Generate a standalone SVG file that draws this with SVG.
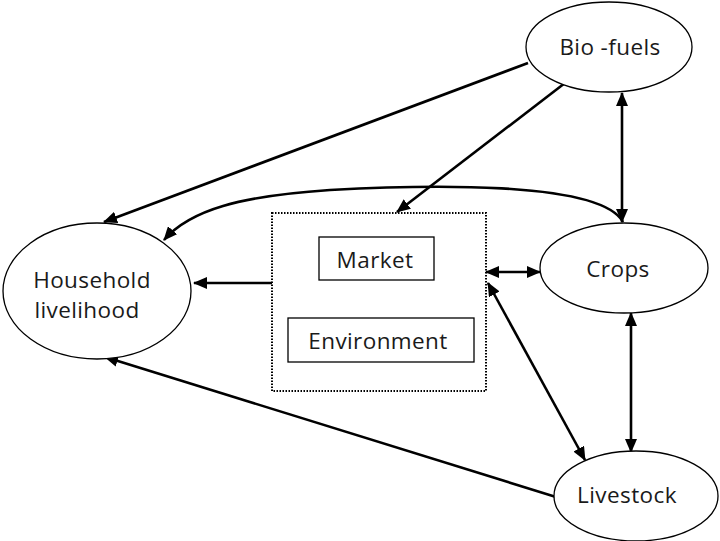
<svg xmlns="http://www.w3.org/2000/svg" width="720" height="541" viewBox="0 0 720 541">
<style>
.node{fill:#fff;stroke:#000;stroke-width:1.3}
.lbl{font-family:"Open Sans","Liberation Sans",sans-serif;font-size:22.5px;letter-spacing:0.4px;fill:#1a1a1a;text-anchor:middle}
.con{fill:none;stroke:#000;stroke-width:2.6}
.box{fill:#fff;stroke:#000;stroke-width:1.3}
.dash{fill:none;stroke:#000;stroke-width:2;stroke-dasharray:1.5 1.5}
</style>
<defs>
<marker id="ah" markerUnits="userSpaceOnUse" markerWidth="14" markerHeight="12" refX="13" refY="6" orient="auto-start-reverse" viewBox="0 0 14 12">
<path d="M0,0 L14,6 L0,12 Z" fill="#000"/>
</marker>
</defs>
<rect width="720" height="541" fill="#fff"/>
<g id="connectors">
<line class="con" x1="528" y1="63" x2="104" y2="222" marker-end="url(#ah)"/>
<line class="con" x1="565" y1="83" x2="397" y2="212" marker-end="url(#ah)"/>
<path class="con" d="M623,222 C600,180 420,185 330,190 C240,196 190,210 164,240" marker-end="url(#ah)"/>
<line class="con" x1="622" y1="93" x2="622" y2="222" marker-start="url(#ah)" marker-end="url(#ah)"/>
<line class="con" x1="272" y1="283" x2="194" y2="283" marker-end="url(#ah)"/>
<line class="con" x1="486" y1="272" x2="540" y2="272" marker-start="url(#ah)" marker-end="url(#ah)"/>
<line class="con" x1="488" y1="283" x2="585" y2="460" marker-start="url(#ah)" marker-end="url(#ah)"/>
<line class="con" x1="631" y1="313" x2="631" y2="452" marker-start="url(#ah)" marker-end="url(#ah)"/>
<line class="con" x1="556" y1="497" x2="105" y2="357" marker-end="url(#ah)"/>
</g>
<g id="biofuels">
<ellipse class="node" cx="609" cy="47" rx="83" ry="45"/>
<text class="lbl" x="610" y="55">Bio -fuels</text>
</g>
<g id="crops">
<ellipse class="node" cx="624" cy="268" rx="84" ry="45"/>
<text class="lbl" x="618" y="277">Crops</text>
</g>
<g id="household">
<ellipse class="node" cx="97" cy="291" rx="94" ry="68"/>
<text class="lbl" x="92" y="288">Household</text>
<text class="lbl" x="87" y="318">livelihood</text>
</g>
<g id="livestock">
<ellipse class="node" cx="636" cy="496" rx="82" ry="45"/>
<text class="lbl" x="627" y="503">Livestock</text>
</g>
<g id="context">
<rect class="dash" x="272" y="213" width="214" height="178"/>
<g id="market">
<rect class="box" x="319" y="237" width="115" height="43"/>
<text class="lbl" x="375" y="268">Market</text>
</g>
<g id="environment">
<rect class="box" x="288" y="318" width="186" height="44"/>
<text class="lbl" x="378" y="349">Environment</text>
</g>
</g>
</svg>
